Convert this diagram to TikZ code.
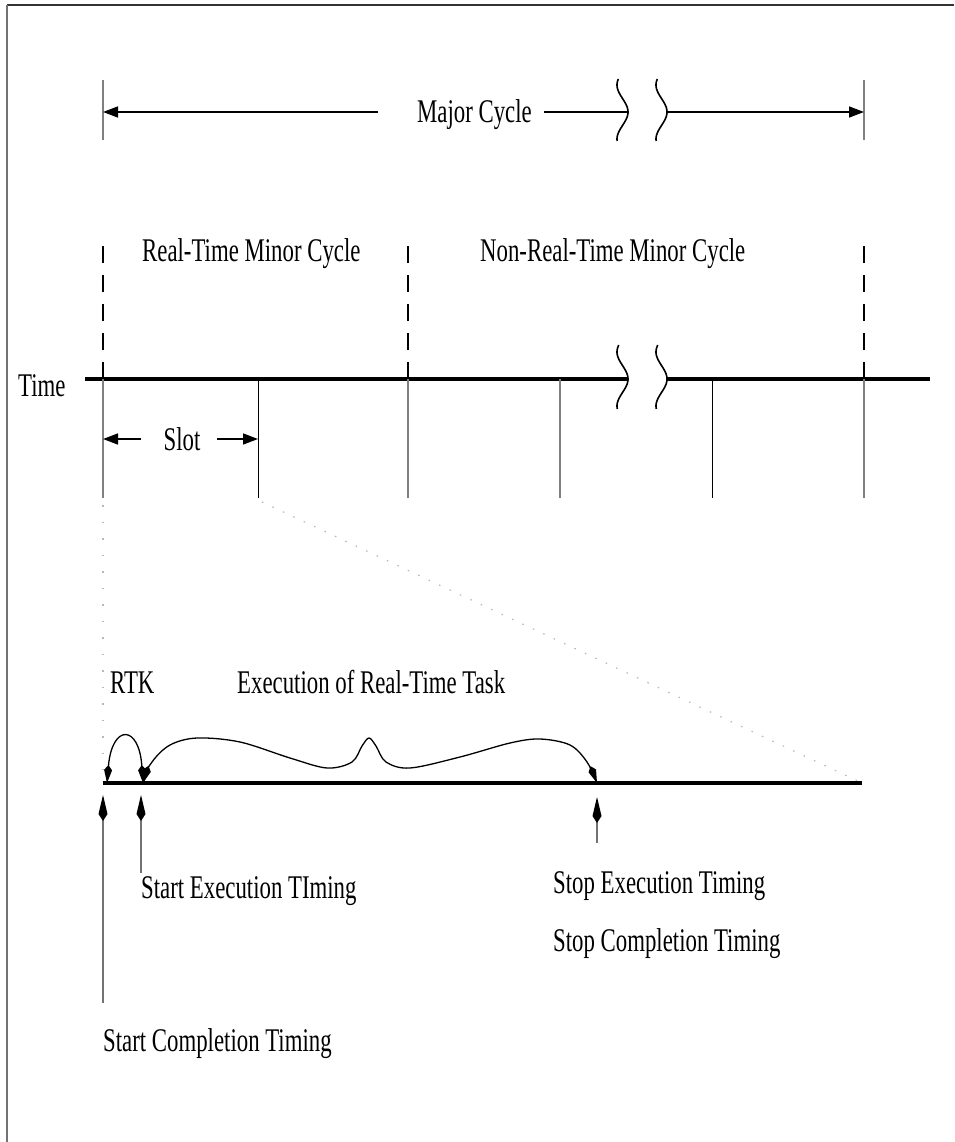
\documentclass[tikz,border=0pt]{standalone}
\usepackage{fontspec}
\setmainfont{Liberation Serif}
\usetikzlibrary{arrows.meta}
\newcommand\tstretch[1]{\scalebox{1}[1.45]{#1}}
\begin{document}
\begin{tikzpicture}[x=1pt,y=-1pt,
  txt/.style={font=\fontsize{22.8}{27}\selectfont, inner sep=0pt},
  thinline/.style={line width=1pt, draw=black},
  grayline/.style={line width=1.2pt, draw=black!50},
  axisline/.style={line width=3.5pt},
  dashline/.style={line width=1.5pt, dash pattern=on 17pt off 12pt},
  dimarrow/.style={line width=1.5pt, -{Triangle[length=15pt,width=11pt]}},
  brk/.style={line width=1.6pt},
  curveline/.style={line width=1.3pt, {Kite[length=18pt,width=8pt,inset=5pt]}-{Kite[length=18pt,width=8pt,inset=5pt]}},
  uparrow/.style={line width=1.2pt, draw=black!55, -{Kite[length=26pt,width=9pt,inset=7pt,color=black]}},
  dotline/.style={line width=1.2pt, draw=black!28, dash pattern=on 1.5pt off 10pt}
]
\useasboundingbox (0,0) rectangle (954,1142);
% frame
\draw[line width=1.5pt, draw=black!80] (7,5) -- (954,5);
\draw[line width=1.5pt, draw=black!55] (7,5) -- (7,1142);

% ---------- Major cycle ----------
\coordinate (mcA) at (103,80);  \coordinate (mcB) at (103,140);
\coordinate (mcC) at (864,80);  \coordinate (mcD) at (864,140);
\draw[grayline] (mcA) -- (mcB);
\draw[grayline] (mcC) -- (mcD);
\node[txt, anchor=base west] (major) at (417,123) {\tstretch{Major Cycle}};
\coordinate (mcL) at (103,112); \coordinate (mcLs) at (378,112);
\coordinate (mcRs) at ([xshift=12pt]major.east |- mcL); \coordinate (mcB1) at (628,112);
\coordinate (mcB2) at (667,112); \coordinate (mcR) at (864,112);
\draw[dimarrow] (mcLs) -- (mcL);
\draw[line width=1.5pt] (mcRs) -- (mcB1);
\draw[dimarrow] (mcB2) -- (mcR);
\draw[brk] plot[domain=-33:29, samples=50, smooth] ({628-5.5+5.5*cos(180*\x/27)}, {112+\x});
\draw[brk] plot[domain=-33:29, samples=50, smooth] ({667-5.5+5.5*cos(180*\x/27)}, {112+\x});

% ---------- minor cycles ----------
\node[txt, anchor=base west] (rtmc) at (142,261) {\tstretch{Real-Time Minor Cycle}};
\node[txt, anchor=base west] (nrtmc) at (480,261) {\tstretch{Non-Real-Time Minor Cycle}};
\coordinate (d1t) at (103,237); \coordinate (d1b) at (103,379);
\coordinate (d2t) at (408,237); \coordinate (d2b) at (408,379);
\coordinate (d3t) at (864,237); \coordinate (d3b) at (864,379);
\draw[dashline] (d1b) -- (d1t);
\draw[dashline] (d2b) -- (d2t);
\draw[dashline] (d3b) -- (d3t);

% ---------- time axis ----------
\node[txt, anchor=base west] (time) at (18,396) {\tstretch{Time}};
\coordinate (taL) at (85,379); \coordinate (taB1) at (628,379);
\coordinate (taB2) at (667,379); \coordinate (taR) at (930,379);
\draw[axisline] (taL) -- (taB1);
\draw[axisline] (taB2) -- (taR);
\draw[brk] plot[domain=-34:30, samples=50, smooth] ({628-5.5+5.5*cos(180*\x/27)}, {379+\x});
\draw[brk] plot[domain=-34:30, samples=50, smooth] ({667-5.5+5.5*cos(180*\x/27)}, {379+\x});

% slot ticks
\coordinate (t1) at (103,379); \coordinate (t1b) at (103,498);
\coordinate (t2) at (258,379); \coordinate (t2b) at (258,498);
\coordinate (t3) at (408,379); \coordinate (t3b) at (408,498);
\coordinate (t4) at (560,379); \coordinate (t4b) at (560,498);
\coordinate (t5) at (712,379); \coordinate (t5b) at (712,498);
\coordinate (t6) at (864,379); \coordinate (t6b) at (864,498);
\draw[grayline] (t1) -- (t1b);
\draw[thinline] (t2) -- (t2b);
\draw[grayline] (t3) -- (t3b);
\draw[grayline] (t4) -- (t4b);
\draw[thinline] (t5) -- (t5b);
\draw[grayline] (t6) -- (t6b);

% slot label
\node[txt, anchor=base] (slot) at (182,450) {\tstretch{Slot}};
\coordinate (sL) at (103,439); \coordinate (sLs) at (141,439);
\coordinate (sRs) at (217,439); \coordinate (sR) at (258,439);
\draw[dimarrow] (sLs) -- (sL);
\draw[dimarrow] (sRs) -- (sR);

% zoom (dotted) lines
\coordinate (z1a) at (103,505); \coordinate (z1b) at (103,770);
\coordinate (z2a) at (262,502); \coordinate (z2b) at (860,782);
\draw[dotline, dash pattern=on 1.5pt off 15pt] (z1a) -- (z1b);
\draw[dotline] (z2a) -- (z2b);

% ---------- lower detail ----------
\node[txt, anchor=base west] (rtk) at (110,693) {\tstretch{RTK}};
\node[txt, anchor=base west] (exec) at (237,693) {\tstretch{Execution of Real-Time Task}};
\coordinate (la) at (103,783); \coordinate (lb) at (862,783);
\draw[axisline] (la) -- (lb);

\coordinate (k1) at (107,783); \coordinate (k2) at (143,783); \coordinate (k3) at (597,783);
\draw[curveline] (k1) .. controls (112,724) and (139,724) .. (k2);
\draw[curveline] plot[smooth, tension=0.55] coordinates {(143,783) (152,762) (170,745) (197,738) (240,742) (290,758) (327,768) (352,762) (362,746) (369,738) (376,746) (386,762) (410,768) (460,757) (510,743) (540,739) (570,745) (587,762) (597,783)};

% up arrows
\coordinate (u1t) at (103,795); \coordinate (u1b) at (103,1003);
\coordinate (u2t) at (141,795); \coordinate (u2b) at (141,873);
\coordinate (u3t) at (597,797); \coordinate (u3b) at (597,843);
\draw[uparrow] (u1b) -- (u1t);
\draw[uparrow] (u2b) -- (u2t);
\draw[uparrow] (u3b) -- (u3t);

\node[txt, anchor=base west] (set) at (141,898) {\tstretch{Start Execution TIming}};
\node[txt, anchor=base west] (sct) at (103,1051) {\tstretch{Start Completion Timing}};
\node[txt, anchor=base west] (stet) at (553,893) {\tstretch{Stop Execution Timing}};
\node[txt, anchor=base west] (stct) at (553,951) {\tstretch{Stop Completion Timing}};
\end{tikzpicture}
\end{document}
